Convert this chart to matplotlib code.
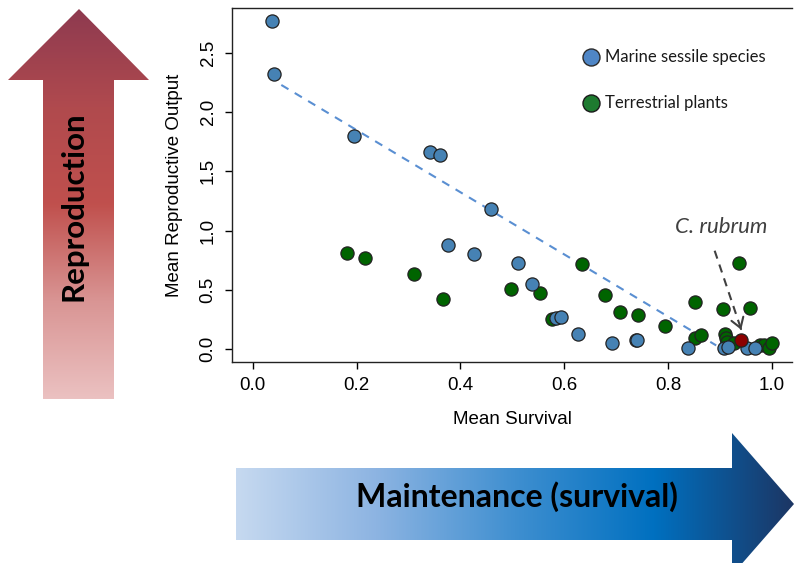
import numpy as np
import matplotlib
matplotlib.use('Agg')
import matplotlib.pyplot as plt
from matplotlib.patches import Polygon
from matplotlib.colors import LinearSegmentedColormap

# marine sessile species (blue)
marine_x = [0.038, 0.041, 0.195, 0.342, 0.360, 0.459, 0.376, 0.426, 0.512, 0.539,
            0.584, 0.593, 0.626, 0.693, 0.738, 0.740, 0.838, 0.908, 0.916, 0.952, 0.967]
marine_y = [2.77, 2.32, 1.80, 1.66, 1.64, 1.18, 0.88, 0.80, 0.73, 0.55,
            0.26, 0.27, 0.13, 0.05, 0.08, 0.08, 0.01, 0.01, 0.02, 0.01, 0.01]

# terrestrial plants (green)
plant_x = [0.181, 0.216, 0.310, 0.367, 0.497, 0.554, 0.576, 0.634, 0.678, 0.708,
           0.742, 0.794, 0.853, 0.853, 0.864, 0.906, 0.936, 0.959, 0.909, 0.911,
           0.913, 0.927, 0.977, 0.986, 0.994, 1.000]
plant_y = [0.81, 0.77, 0.63, 0.42, 0.51, 0.47, 0.25, 0.72, 0.46, 0.31,
           0.29, 0.19, 0.40, 0.09, 0.12, 0.34, 0.73, 0.35, 0.13, 0.09,
           0.06, 0.05, 0.03, 0.03, 0.01, 0.05]

# C. rubrum
rubrum_x = [0.940]
rubrum_y = [0.08]

# dashed trend line (marine)
trend_x = [0.055, 0.893]
trend_y = [2.23, 0.03]

x_ticks = [0.0, 0.2, 0.4, 0.6, 0.8, 1.0]
y_ticks = [0.0, 0.5, 1.0, 1.5, 2.0, 2.5]

W, H = 794, 563
fig = plt.figure(figsize=(W / 100, H / 100), dpi=100)

# background layer in pixel coordinates (arrows, legend)
bg = fig.add_axes([0, 0, 1, 1])
bg.axis('off')


def grad_arrow(pts, colors, extent, vertical):
    poly = Polygon(pts, closed=True, fc='none', ec='none')
    bg.add_patch(poly)
    cmap = LinearSegmentedColormap.from_list('arrow', colors)
    g = np.linspace(0, 1, 256)
    g = g.reshape(-1, 1) if vertical else g.reshape(1, -1)
    im = bg.imshow(g, cmap=cmap, extent=extent, origin='upper',
                   aspect='auto', interpolation='bilinear')
    im.set_clip_path(poly)


# red arrow (Reproduction)
grad_arrow([(79, 9), (149, 80), (114, 80), (114, 399), (43, 399), (43, 80), (8, 80)],
           ['#8e3a50', '#b04a4e', '#c0504d', '#d99594', '#ebc1c1'],
           (0, 160, 399, 9), True)
# blue arrow (Maintenance)
grad_arrow([(236, 468), (732, 468), (732, 433), (794, 504), (732, 575), (732, 540), (236, 540)],
           ['#c6d9f0', '#8db4e2', '#3f8fd0', '#0070c0', '#1c3664'],
           (236, 794, 575, 433), False)
bg.set_xlim(0, W)
bg.set_ylim(H, 0)

bg.text(73, 206, 'Reproduction', rotation=90, ha='center', va='center',
        fontsize=22.5, fontweight='bold', family='Lato', color='black')
bg.text(517, 497, 'Maintenance (survival)', ha='center', va='center',
        fontsize=23, fontweight='bold', family='Lato', color='black')

# legend
bg.scatter([591], [57], s=150, c='#4f86c6', edgecolors='#2b2b2b', linewidths=1, zorder=5)
bg.scatter([591], [103], s=150, c='#1e7b30', edgecolors='#1a1a1a', linewidths=1, zorder=5)
bg.text(605, 57, 'Marine sessile species', ha='left', va='center',
        fontsize=12, family='Lato', color='#1a1a1a')
bg.text(605, 103, 'Terrestrial plants', ha='left', va='center',
        fontsize=12, family='Lato', color='#1a1a1a')

# main scatter plot
ax = fig.add_axes([232 / W, 1 - 362 / H, 560.5 / W, 354 / H])
ax.set_facecolor('none')
ax.set_xlim(-0.04, 1.04)
ax.set_ylim(-0.11, 2.88)

ax.plot(trend_x, trend_y, ls=(0, (4, 3.5)), color='#5a8fd2', lw=1.5, zorder=2)
ax.scatter(plant_x, plant_y, s=90, c='#006400', edgecolors='#222222', linewidths=0.9, zorder=3)
ax.scatter(marine_x, marine_y, s=90, c='#4682b4', edgecolors='#222222', linewidths=0.9, zorder=3)
ax.scatter(rubrum_x, rubrum_y, s=90, c='#8b0000', edgecolors='#222222', linewidths=0.9, zorder=4)

# C. rubrum label and dashed arrow
ax.text(0.902, 1.03, 'C. rubrum', ha='center', va='center', fontsize=16,
        style='italic', family='Lato', color='#404040')
ax.plot([0.890, 0.940], [0.83, 0.18], ls=(0, (4, 3)), color='#404040', lw=1.5, zorder=5)
ax.annotate('', xy=(0.943, 0.14), xytext=(0.939, 0.19),
            arrowprops=dict(arrowstyle='->,head_length=0.7,head_width=0.45',
                            color='#404040', lw=1.5))

ax.set_xticks(x_ticks)
ax.set_xticklabels(['%.1f' % v for v in x_ticks])
ax.set_yticks(y_ticks)
ax.set_yticklabels(['%.1f' % v for v in y_ticks], rotation=90, va='center')
ax.tick_params(direction='out', length=5, width=1, labelsize=13.5, pad=6)
for lab in ax.get_xticklabels() + ax.get_yticklabels():
    lab.set_family('Liberation Sans')
ax.spines['right'].set_visible(False)
for s in ['left', 'top', 'bottom']:
    ax.spines[s].set_linewidth(1)
    ax.spines[s].set_color('#222222')

ax.set_xlabel('Mean Survival', fontsize=13.5, family='Liberation Sans', labelpad=12)
ax.set_ylabel('Mean Reproductive Output', fontsize=13.5, family='Liberation Sans', labelpad=12)

fig.savefig('out.png', dpi=100)
